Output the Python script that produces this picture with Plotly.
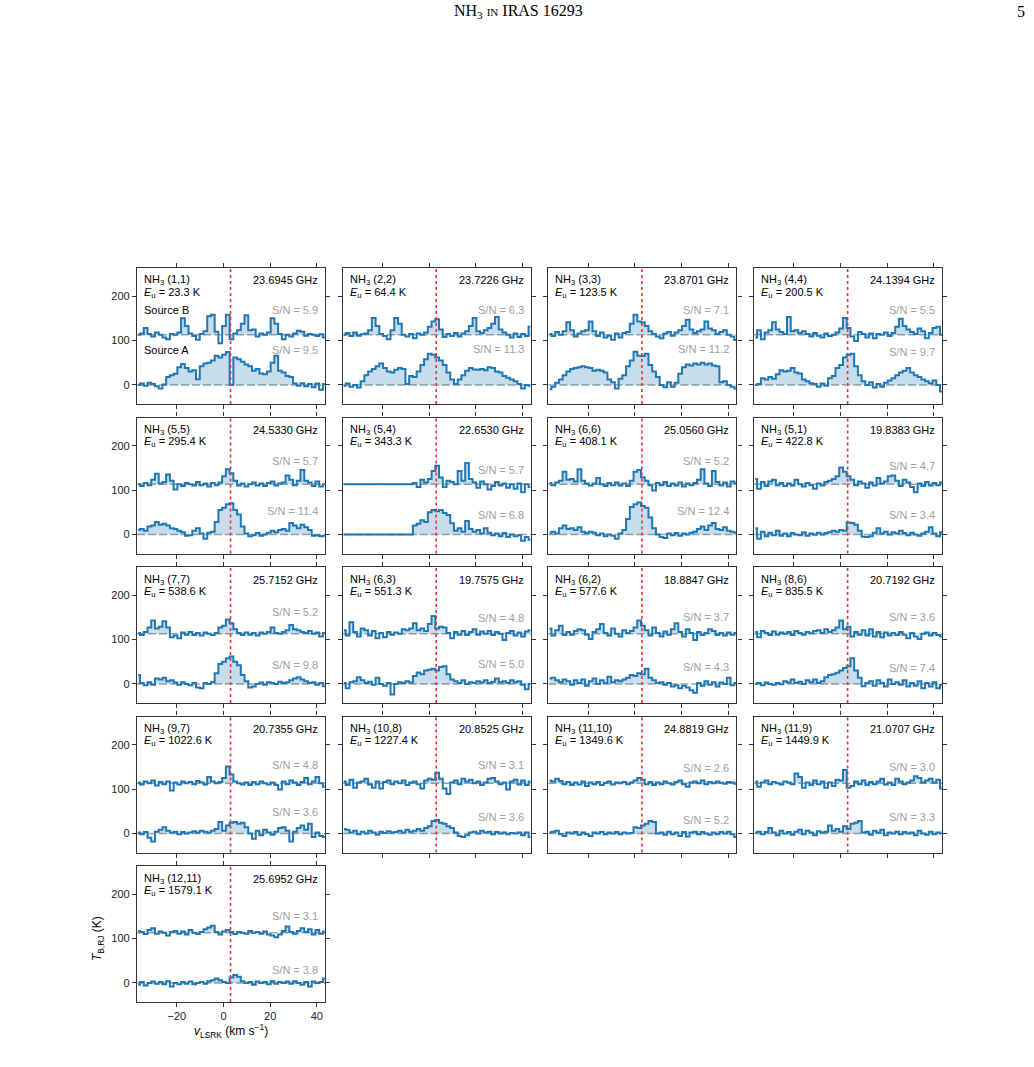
import plotly.graph_objects as go

# ---------------- data ----------------
VELOCITY = [-36.6, -35.0, -33.4, -31.8, -30.2, -28.6, -27.0, -25.4, -23.8, -22.2,
            -20.6, -19.0, -17.4, -15.8, -14.2, -12.6, -11.0, -9.4, -7.8, -6.2,
            -4.6, -3.0, -1.4, 0.2, 1.8, 3.4, 5.0, 6.6, 8.2, 9.8,
            11.4, 13.0, 14.6, 16.2, 17.8, 19.4, 21.0, 22.6, 24.2, 25.8,
            27.4, 29.0, 30.6, 32.2, 33.8, 35.4, 37.0, 38.6, 40.2, 41.8, 43.4]

TRANSITIONS = ["(1,1)", "(2,2)", "(3,3)", "(4,4)", "(5,5)", "(5,4)", "(6,6)", "(5,1)",
               "(7,7)", "(6,3)", "(6,2)", "(8,6)", "(9,7)", "(10,8)", "(11,10)", "(11,9)",
               "(12,11)"]
FREQ_GHZ = [23.6945, 23.7226, 23.8701, 24.1394, 24.5330, 22.6530, 25.0560, 19.8383,
            25.7152, 19.7575, 18.8847, 20.7192, 20.7355, 20.8525, 24.8819, 21.0707,
            25.6952]
E_UP = [23.3, 64.4, 123.5, 200.5, 295.4, 343.3, 408.1, 422.8, 538.6, 551.3, 577.6,
        835.5, 1022.6, 1227.4, 1349.6, 1449.9, 1579.1]
SN_B = [5.9, 6.3, 7.1, 5.5, 5.7, 5.7, 5.2, 4.7, 5.2, 4.8, 3.7, 3.6, 4.8, 3.1, 2.6, 3.0, 3.1]
SN_A = [9.5, 11.3, 11.2, 9.7, 11.4, 6.8, 12.4, 3.4, 9.8, 5.0, 4.3, 7.4, 3.6, 3.6, 5.2, 3.3, 3.8]

# brightness temperature (K), Source B (plotted with offset) and Source A
B_1_1 = [0, 3, 15, 2, -4, 5, 0, -6, -10, 2,
         0, 5, 37, 20, 3, -3, -11, 2, 8, 42,
         45, 7, -19, 20, 45, -10, 3, 10, 25, 44,
         10, 12, -4, 3, 0, 5, 37, 25, 2, -10,
         0, -4, 3, 9, 7, -2, 2, 0, -3, 1, -6]
A_1_1 = [0, 3, -2, 5, 2, -3, -8, 1, 18, 22,
         25, 40, 47, 38, 30, 33, 13, 42, 48, 50,
         55, 66, 62, 68, 74, 0, 62, 58, 52, 46,
         42, 32, 36, 26, 24, 30, 50, 66, 32, 28,
         20, 18, 3, -2, 4, -3, 2, -5, 3, -11, 2]
B_2_2 = [0, 4, -3, 5, -2, 1, 3, 10, 38, 20,
         2, -3, -10, 10, 38, 25, 0, -4, 2, -8,
         3, 0, 5, 18, 30, 35, 12, -5, 2, -3,
         4, -4, 3, 8, 20, 38, 8, 4, 10, 15,
         25, 40, 12, 5, 0, -6, 3, -5, 2, -3, 18]
A_2_2 = [-2, 3, -4, 0, -6, 8, 22, 30, 36, 42,
         48, 38, 30, 28, 34, 38, 36, 2, 20, 18,
         30, 45, 58, 70, 68, 62, 55, 45, 28, 12,
         2, 12, 22, 32, 38, 35, 34, 36, 33, 40,
         38, 30, 28, 20, 16, 12, 8, 2, -8, 0, -2]
B_3_3 = [2, -3, 6, 0, 8, 28, 10, -4, 3, 8,
         10, 30, 8, -3, 5, -6, -2, -11, 3, -6,
         4, 6, 25, 45, 30, 28, 20, 8, 2, -4,
         -8, 3, 6, -2, 5, 10, 20, 34, 12, 4,
         8, 12, 30, 14, 10, 2, 6, 10, 0, -4, -12]
A_3_3 = [-10, -4, 5, 12, 22, 30, 36, 38, 40, 42,
         40, 38, 32, 34, 32, 28, 12, 6, -8, 14,
         22, 42, 55, 75, 66, 65, 70, 45, 30, 18,
         0, -5, 6, -4, 5, 25, 40, 46, 44, 48,
         46, 50, 46, 48, 44, 42, 6, 8, 0, -4, -8]
B_4_4 = [-6, 10, -10, 5, 10, 28, 12, 6, 2, 40,
         8, 10, 4, 8, 2, -4, 4, -2, -6, 3,
         -3, 0, 5, 14, 38, 15, -4, -14, 6, 2,
         -6, 3, -8, 2, 0, 5, -3, 4, 18, 36,
         20, 12, 6, 2, 14, 8, -8, 4, 15, 18, 0]
A_4_4 = [0, 2, 15, 12, 18, 14, 24, 33, 30, 32,
         38, 28, 26, 12, 8, 4, 2, -4, 3, -2,
         15, 20, 38, 45, 62, 68, 70, 42, 22, 8,
         0, 6, -6, 2, -4, 5, 10, 15, 22, 28,
         32, 38, 28, 22, 18, 12, 8, 4, 10, 0, -15]
B_5_5 = [0, -4, 3, -2, 10, 24, 2, 5, 22, 8,
         -12, 0, -4, 3, 0, -3, 5, -2, 2, -5,
         3, -2, 4, 18, 34, 25, 8, -3, 2, -5,
         0, 4, -3, 2, -4, 3, 6, -3, 2, 4,
         20, 10, -2, 8, 32, 8, 4, -4, 6, -5, 0]
A_5_5 = [10, 12, 8, 18, 20, 28, 22, 24, 20, 14,
         12, 8, 5, -3, -2, 8, 14, 2, -10, 4,
         6, 28, 55, 60, 68, 70, 55, 45, 18, 2,
         -4, -2, 3, -3, 0, 4, 8, 5, 10, 12,
         8, 26, 20, 14, 22, 16, 10, -3, -2, -4, -3]
B_5_4 = [0, 0, 0, 0, 0, 0, 0, 0, 0, 0,
         0, 0, 0, 0, 0, 0, 0, 0, 0, 3,
         -6, 10, 4, 12, 30, 42, 15, -6, 8, 5,
         0, 30, 8, 48, 12, 4, -8, 6, 0, -12,
         -4, 5, -3, 2, -8, 0, -10, 2, -18, 0, -6]
A_5_4 = [0, 0, 0, 0, 0, 0, 0, 0, 0, 0,
         0, 0, 0, 0, 0, 0, 0, 0, 0, 20,
         24, 32, 28, 50, 55, 52, 55, 48, 44, 25,
         8, 14, 6, 30, 12, 6, 10, 2, 14, 4,
         -2, 2, -4, 3, -6, 0, -4, -2, -14, -6, -12]
B_6_6 = [3, -2, 4, 8, 28, 10, 12, 6, 34, 8,
         2, -3, 2, 14, 0, -4, 3, -2, 4, -3,
         2, -4, 8, 28, 32, 16, 8, -2, -14, 3,
         -2, 5, -4, 2, -3, 4, -5, 2, -2, 3,
         10, 34, 2, -4, 30, 5, -3, 4, -5, 6, 2]
A_6_6 = [4, 6, 2, 14, 20, 12, 14, 10, 16, 6,
         3, 6, 4, -2, 2, -4, 0, -3, -10, 2,
         10, 35, 62, 68, 72, 64, 60, 38, 14, 0,
         -6, -8, 2, -2, 3, -3, 2, 0, 4, 6,
         12, 18, 10, 20, 26, 12, 10, 16, 8, 6, 4]
B_5_1 = [12, -10, 5, -4, 6, 10, -2, 3, -4, 2,
         -3, 10, 0, -5, 3, -2, -10, 2, -3, 5,
         8, 12, 18, 38, 28, 18, 10, -2, 6, 2,
         -8, 4, -3, 14, 2, 6, 18, 20, 8, -4,
         10, 4, -6, -18, 2, -4, 5, -3, 3, -2, 4]
A_5_1 = [14, -10, 6, -4, 4, -2, 8, -3, 2, -4,
         3, 0, -2, 5, -3, 2, -1, 4, 0, 3,
         5, 8, 6, 10, 8, 27, 26, 22, 8, -5,
         -6, -4, 4, 14, 2, 6, 0, 5, 2, 8,
         3, -2, 4, 0, -3, 2, 6, 16, 2, -4, 5]
B_7_7 = [2, -3, 4, 14, 30, 12, 16, 28, 14, -8,
         -4, -10, 3, -2, 4, -3, 2, -4, 3, 0,
         -3, 2, 14, 18, 32, 24, 10, 2, -3, 3,
         -2, 2, -4, 3, 0, 4, 14, 2, 0, 4,
         8, 20, 10, 8, 4, 2, 6, 0, 3, -6, 2]
A_7_7 = [20, 2, -3, 4, -2, 12, 10, 14, 6, 8,
         3, -2, 4, 0, -3, 2, -8, -10, 2, 0,
         4, 24, 45, 50, 58, 62, 50, 42, 20, 6,
         -8, -6, 0, 3, -2, 4, 2, 0, 5, 2,
         4, 8, 12, 15, 10, 6, 2, 4, -2, 2, -5]
B_6_3 = [8, -4, 26, 4, -6, 12, 8, -4, 6, -10,
         2, -8, 4, -2, 3, 0, 10, 8, 12, 24,
         8, 12, 6, 22, 40, 12, 16, 14, 2, -10,
         4, -2, 6, -3, 4, 10, -2, 5, 0, 6,
         -3, 4, 0, -14, 2, 6, -4, 3, -6, 5, 8]
A_6_3 = [2, -10, 4, 6, 15, 8, 2, 5, -2, 14,
         0, -4, 2, -24, 0, 4, 2, 6, 3, 18,
         26, 22, 30, 32, 34, 30, 38, 40, 22, 10,
         6, 2, 8, 0, 4, 2, 6, 3, 8, 2,
         5, 12, 4, 6, 2, 8, 4, 6, -2, -12, 0]
B_6_2 = [12, -4, 8, 18, -3, 4, -2, 6, 10, 8,
         -2, -12, 4, 10, 22, 2, -4, 12, 0, -6,
         8, 2, 6, 14, 30, 18, 8, -4, 14, 2,
         -6, 5, -2, 10, 24, 4, -6, 10, 2, -14,
         4, -3, 2, 10, 6, -3, 2, -4, 3, -2, 2]
A_6_2 = [12, 14, 8, 4, 10, 6, -2, 8, 2, 10,
         -4, 6, 12, 0, 8, 2, 16, 4, 8, 6,
         10, 14, 20, 18, 24, 22, 34, 14, 8, 2,
         4, -2, 2, -6, -3, -10, -4, -8, -14, -20,
         2, -4, 6, -2, 4, -6, 3, 0, 14, -3, 2]
B_8_6 = [4, -8, 6, 2, -3, 5, -2, 3, 0, 4,
         -3, 6, 2, -2, 4, 1, 6, 8, 2, 10,
         4, 8, 14, 30, 10, 16, -6, 4, -2, 8,
         -4, 10, -6, 4, -8, 3, -4, 2, -3, 4,
         -2, -10, 2, -6, -12, 0, 3, -4, 2, -3, -6]
A_8_6 = [0, 2, -3, 3, 0, -2, 2, -1, 6, 3,
         10, 2, 5, 0, 8, 4, 10, 2, 6, 15,
         20, 22, 25, 30, 36, 40, 58, 30, 14, -5,
         2, 6, -4, 8, 2, -6, 10, 0, 4, -2,
         8, -6, 2, -4, 6, -10, 2, -6, 4, -10, -2]
B_9_7 = [2, -3, 4, 0, 6, -5, 3, -2, 4, -16,
         2, -3, 4, 0, 3, -2, 5, 2, -3, 14,
         4, 0, 3, 12, 38, 20, 4, 0, -3, 2,
         -4, 3, -2, 4, 0, -3, 2, -4, -14, 4,
         -2, 6, 2, -4, 3, 12, -2, 4, 14, 0, -8]
A_9_7 = [2, -2, 3, -10, -18, 4, 8, 14, 6, 2,
         4, -2, 3, 0, 2, 5, 2, 6, 4, 2,
         6, 10, 26, 6, 18, 24, 26, 22, 24, 14,
         0, -12, 6, -4, 8, 2, -3, 4, 12, 14,
         6, -18, 4, 12, 18, 8, 22, -8, 2, -6, -8]
B_10_8 = [4, -4, 8, -10, 2, 4, 10, -3, -10, 4,
          -12, 3, 6, -2, 4, 0, 6, -4, 2, 4,
          -2, -12, 6, 10, 8, 24, 10, -12, -24, 2,
          6, -2, 10, 4, 8, 0, 4, -4, 2, 10,
          12, 4, -2, 2, -14, 4, 8, -3, 6, -4, 4]
A_10_8 = [10, 8, 2, 6, -2, 4, 0, 6, 2, -3,
          4, 1, 5, 2, 3, 6, 2, 8, 4, 6,
          10, 6, 12, 16, 28, 30, 24, 22, 16, 12,
          2, -6, -8, -4, 2, 4, 0, 6, 2, 4,
          -2, 3, 0, 2, -2, 1, 0, 2, -4, 2, -8]
B_11_10 = [6, 4, 10, 5, -2, 3, -4, 2, -3, 4,
           -6, 2, -2, 3, -4, 1, 4, -3, 2, 0,
           3, -2, 2, 6, 12, 8, -2, 3, -4, 2,
           -2, 4, 0, -3, 3, 6, -2, -8, 2, 4,
           0, 6, -2, 3, 0, 4, 1, -1, 3, 2, -1]
A_11_10 = [2, 4, 6, -2, -6, 2, 0, 3, -3, 2,
           -2, -6, 2, 0, 3, -2, 2, 0, 3, -2,
           2, 0, 1, 14, 12, 18, 22, 28, 26, 0,
           2, -3, 4, -2, 2, -6, 3, -7, 2, 4,
           -2, 3, 0, -3, 2, -2, 3, 0, 4, -2, -8]
B_11_9 = [4, -8, 2, 6, -2, 3, 0, -3, 4, 2,
          -2, 22, 14, -10, 2, -4, 6, -2, 4, -10,
          2, -6, 8, 6, 30, -10, -6, 4, -2, 6,
          -4, 3, -2, 4, 10, -3, 2, -4, 10, 4,
          -2, 2, 6, 16, 12, 2, 6, 10, 2, 8, -12]
A_11_9 = [2, 4, -2, 3, 12, 2, -4, 6, 0, 3,
          -3, 4, 8, -2, 6, 2, -4, 5, 2, 4,
          18, 6, 10, 4, 16, 10, 22, 24, 28, 2,
          4, -3, 6, 2, 8, -4, 2, 0, 4, -2,
          3, 0, 2, -4, 6, 0, -3, 4, -2, 2, 0]
B_12_11 = [4, 2, -3, 6, 10, -2, 3, 0, -6, 2,
           4, -2, 3, -4, 6, 0, -3, 2, 8, 12,
           16, 2, -4, 3, 6, 2, -3, 2, 0, -2,
           4, 0, 2, -2, 3, -4, -6, -10, -4, 4,
           14, 2, -2, 4, 10, 2, 8, -4, 6, -2, 3]
A_12_11 = [-4, 2, -6, 0, 3, -2, 2, -3, 4, -8,
           0, -3, 2, -2, 3, -3, 0, 2, -2, 4,
           6, 10, 6, 2, 0, 12, 18, 14, 4, 0,
           2, -4, 3, 0, 2, -3, 4, -2, 2, 0,
           3, -2, 4, 0, -4, 2, -8, 3, 0, 2, 10]

SPECTRA_B = [B_1_1, B_2_2, B_3_3, B_4_4, B_5_5, B_5_4, B_6_6, B_5_1, B_7_7, B_6_3,
             B_6_2, B_8_6, B_9_7, B_10_8, B_11_10, B_11_9, B_12_11]
SPECTRA_A = [A_1_1, A_2_2, A_3_3, A_4_4, A_5_5, A_5_4, A_6_6, A_5_1, A_7_7, A_6_3,
             A_6_2, A_8_6, A_9_7, A_10_8, A_11_10, A_11_9, A_12_11]

OFFSET_B = 113      # K, vertical offset of the Source B spectra
V_SYS = 3.0         # km/s, red dotted line

# S/N label heights (K) in each panel
SN_B_Y = [169, 169, 169, 169, 165, 145, 165, 155, 163, 148, 150, 150, 154, 154, 147, 150, 150]
SN_A_Y = [79, 81, 81, 74, 53, 44, 53, 44, 43, 45, 39, 35, 49, 36, 30, 36, 30]

# ---------------- layout geometry (page pixels) ----------------
W, H = 1034, 1067
COL_LEFT0, COL_PITCH, PANEL_W = 137, 205.7, 188
ROW_TOP0, ROW_PITCH, PANEL_H = 268, 149.5, 136
X_RANGE = [-37.1, 43.5]
Y_RANGE = [-43, 263.5]

BLUE = "#1f77b4"
FILL = "rgba(31,119,180,0.25)"
GREY = "#a0a0a0"
RED = "#f0302c"
FRAME = "#333333"
FONT = "Liberation Sans, Arial, sans-serif"
SERIF = "Liberation Serif, Times New Roman, serif"


def px(xs):
    return xs / W


def py(ys):
    return 1 - ys / H


fig = go.Figure()
shapes, annotations = [], []


def label(text, x, y, xanchor="left", yref="paper", color="black", size=11,
          family=FONT, **kw):
    annotations.append(dict(text=text, x=x, y=y, xref="paper", yref=yref,
                            xanchor=xanchor, yanchor="middle", showarrow=False,
                            font=dict(family=family, size=size, color=color), **kw))


axes = {}
for k in range(17):
    r, c = divmod(k, 4)
    xl = COL_LEFT0 + c * COL_PITCH
    xr = xl + PANEL_W
    yt = ROW_TOP0 + r * ROW_PITCH
    yb = yt + PANEL_H
    n = "" if k == 0 else str(k + 1)
    xa, ya = "x" + n, "y" + n

    common = dict(showline=True, linecolor=FRAME, linewidth=1.2, mirror="ticks",
                  ticks="outside", ticklen=4, tickwidth=1, tickcolor=FRAME,
                  showgrid=False, zeroline=False,
                  tickfont=dict(family=FONT, size=11, color="#222"))
    axes["xaxis" + n] = dict(common, domain=[px(xl), px(xr)], anchor=ya, range=X_RANGE,
                             tickvals=[-20, 0, 20, 40], showticklabels=(k == 16))
    axes["yaxis" + n] = dict(common, domain=[py(yb), py(yt)], anchor=xa, range=Y_RANGE,
                             tickvals=[0, 100, 200], showticklabels=(c == 0))

    for spec, off in ((SPECTRA_B[k], OFFSET_B), (SPECTRA_A[k], 0)):
        base = [off] * len(VELOCITY)
        top = [off + max(v, 0) for v in spec]
        fig.add_trace(go.Scatter(x=VELOCITY, y=base, mode="lines",
                                 line=dict(width=0, shape="hvh"), hoverinfo="skip",
                                 showlegend=False, xaxis=xa, yaxis=ya))
        fig.add_trace(go.Scatter(x=VELOCITY, y=top, mode="lines", fill="tonexty",
                                 fillcolor=FILL, line=dict(width=0, shape="hvh"),
                                 hoverinfo="skip", showlegend=False, xaxis=xa, yaxis=ya))
        fig.add_trace(go.Scatter(x=VELOCITY, y=[off + v for v in spec], mode="lines",
                                 line=dict(color=BLUE, width=2, shape="hvh"),
                                 showlegend=False, xaxis=xa, yaxis=ya))
        shapes.append(dict(type="line", xref=xa + " domain", yref=ya, x0=0, x1=1,
                           y0=off, y1=off, layer="below",
                           line=dict(color=GREY, width=1.5, dash="8px,3px")))

    shapes.append(dict(type="line", xref=xa, yref=ya + " domain", x0=V_SYS, x1=V_SYS,
                       y0=0, y1=1, line=dict(color=RED, width=1.6, dash="dot")))

    # panel texts
    label(f"NH<sub>3</sub> {TRANSITIONS[k]}", px(xl + 5), py(yt + 12.5))
    label(f"<i>E</i><sub>u</sub> = {E_UP[k]:.1f} K", px(xl + 5), py(yt + 24.5))
    label(f"{FREQ_GHZ[k]:.4f} GHz", px(xr - 5), py(yt + 12.5), xanchor="right")
    label(f"S/N = {SN_B[k]:.1f}", px(xr - 5), SN_B_Y[k], xanchor="right", yref=ya, color=GREY)
    label(f"S/N = {SN_A[k]:.1f}", px(xr - 5), SN_A_Y[k], xanchor="right", yref=ya, color=GREY)
    if k == 0:
        label("Source B", px(xl + 5), SN_B_Y[k], yref=ya)
        label("Source A", px(xl + 5), SN_A_Y[k], yref=ya)

# axis titles
label("<i>T</i><sub>B,RJ</sub> (K)", px(98), py(939), xanchor="center", size=12, textangle=-90)
label("<i>v</i><sub>LSRK</sub> (km s<sup>\u22121</sup>)", px(231), py(1031), xanchor="center", size=12)

# page header
label("NH<sub>3</sub> <span style='font-size:11px'>IN</span> IRAS 16293", px(518), py(12),
      xanchor="center", size=16, family=SERIF)
label("5", px(1027), py(12), xanchor="right", size=16, family=SERIF)

fig.update_layout(
    width=W, height=H, autosize=False,
    margin=dict(l=0, r=0, t=0, b=0),
    plot_bgcolor="white", paper_bgcolor="white",
    showlegend=False,
    shapes=shapes, annotations=annotations,
    **axes,
)

# drop the browser's default body margin so the page pixels line up with the figure
fig.write_html("out.html", config={"displayModeBar": False},
               post_script="document.body.style.margin='0';")
